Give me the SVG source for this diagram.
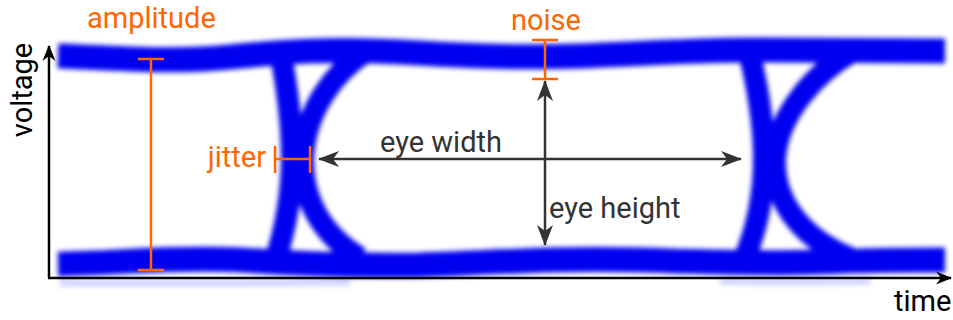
<svg xmlns="http://www.w3.org/2000/svg" width="953" height="320" viewBox="0 0 953 320">
<style>
.trace{fill:none;stroke:#0000f0;stroke-width:25;stroke-linecap:butt}
.arm{fill:none;stroke:#0000f0;stroke-width:22}
.orange{fill:none;stroke:#ff6600;stroke-width:2.5}
.dim{fill:none;stroke:#333;stroke-width:2.5}
.axis{fill:none;stroke:#000;stroke-width:2.5}
.lbl{font-family:Roboto,"Liberation Sans",sans-serif;font-size:29px}
.ol{fill:#ff6600}
.dl{fill:#333}
.bl{fill:#000}
</style>
<defs>
<filter id="blur" x="-5%" y="-20%" width="110%" height="140%">
<feGaussianBlur stdDeviation="2.5"/>
</filter>
<marker id="ah" viewBox="-22 -9 24 18" refX="0" refY="0" markerWidth="24" markerHeight="18" markerUnits="userSpaceOnUse" orient="auto-start-reverse">
<path d="M1,0 L-20,-8 L-14,0 L-20,8 Z" fill="#333"/>
</marker>
<marker id="axh" viewBox="-16 -8 18 16" refX="0" refY="0" markerWidth="18" markerHeight="16" markerUnits="userSpaceOnUse" orient="auto">
<path d="M1,0 L-15,-6.5 L-10,0 L-15,6.5 Z" fill="#000"/>
</marker>
</defs>

<g id="eye-traces" filter="url(#blur)">
<path class="trace" d="M58,56 C120,58 170,63 230,57 C280,52 330,48 400,52 C470,56 520,58 580,56 C650,53 700,50 760,50 C830,50 900,51 945,51"/>
<path class="trace" d="M58,264 C120,263 170,257 240,260 C300,264 350,266 420,265 C500,262 560,258 640,260 C700,262 760,264 820,262 C880,260 920,260 945,260"/>
<path class="arm" d="M279,45 C286,80 292,120 292,158 C292,195 285,230 275,262"/>
<path class="arm" d="M365,52 C335,72 305,110 303,158 C302,195 318,232 360,258"/>
<path class="arm" d="M747,45 C757,80 764,125 764,158 C764,195 756,232 743,262"/>
<path class="arm" d="M855,50 C815,72 778,115 775,158 C773,195 795,235 850,258"/>
<path d="M60,283 C150,284 250,283 350,282 M720,281 C780,282 830,282 870,281" fill="none" stroke="#0000ff" stroke-opacity="0.18" stroke-width="7"/>
</g>

<g id="connectors">
<line class="axis" x1="49" y1="278" x2="49" y2="46" marker-end="url(#axh)"/>
<line class="axis" x1="48" y1="278" x2="951" y2="278" marker-end="url(#axh)"/>
<line class="dim" x1="319" y1="159" x2="741" y2="159" marker-start="url(#ah)" marker-end="url(#ah)"/>
<line class="dim" x1="545" y1="81" x2="545" y2="245" marker-start="url(#ah)" marker-end="url(#ah)"/>
</g>

<g id="amplitude">
<path class="orange" d="M151,59 V270 M138,59 H164 M138,270 H164"/>
<text class="lbl ol" x="87" y="28">amplitude</text>
</g>
<g id="noise">
<path class="orange" d="M545,40 V79 M532,40 H558 M532,79 H558"/>
<text class="lbl ol" x="511" y="30">noise</text>
</g>
<g id="jitter">
<path class="orange" d="M275,159 H310 M275,146 V173 M310,146 V173"/>
<text class="lbl ol" x="266" y="167" text-anchor="end">jitter</text>
</g>
<g id="eye-width">
<text class="lbl dl" x="380" y="152">eye width</text>
</g>
<g id="eye-height">
<text class="lbl dl" x="549" y="218">eye height</text>
</g>
<g id="axes-labels">
<text class="lbl bl" transform="translate(32,90) rotate(-90)" text-anchor="middle">voltage</text>
<text class="lbl bl" x="894" y="311">time</text>
</g>
</svg>
